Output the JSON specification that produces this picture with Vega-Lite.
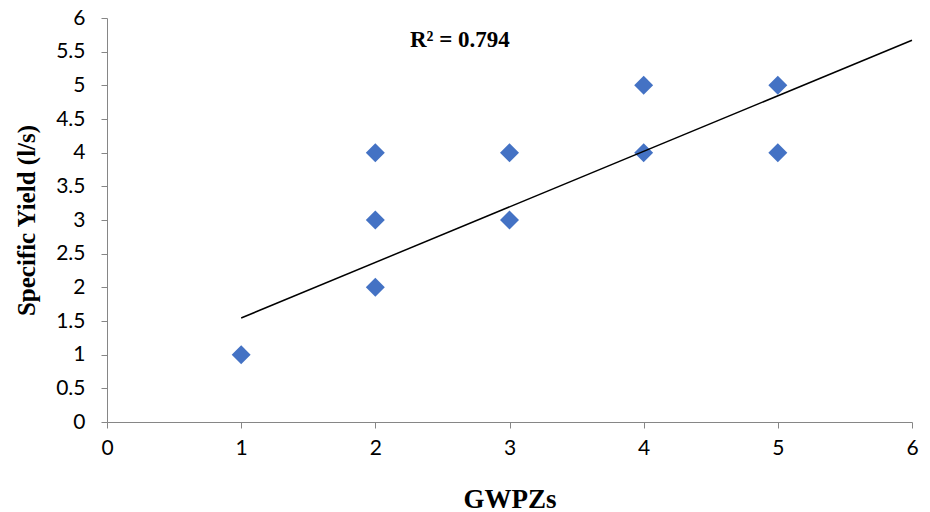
{
  "$schema": "https://vega.github.io/schema/vega-lite/v6.json",
  "autosize": "none",
  "width": 805,
  "height": 404,
  "padding": {"left": 107, "top": 18, "right": 18, "bottom": 90},
  "background": "white",
  "config": {"view": {"stroke": null}},
  "encoding": {
    "x": {
      "field": "gwpz", "type": "quantitative",
      "scale": {"domain": [0, 6], "nice": false, "zero": true},
      "axis": {
        "title": "GWPZs", "values": [0,1,2,3,4,5,6], "format": "~g", "grid": false, "labelOverlap": false, "labelFlush": false,
        "domainColor": "#868686", "tickColor": "#868686", "tickSize": 6,
        "labelFont": "Lato", "labelFontSize": 21, "labelColor": "#000000", "labelPadding": 9,
        "titleFont": "Liberation Serif", "titleFontSize": 27, "titleFontWeight": "bold", "titleColor": "#000000", "titlePadding": 28
      }
    },
    "y": {
      "field": "yield", "type": "quantitative",
      "scale": {"domain": [0, 6], "nice": false, "zero": true},
      "axis": {
        "title": "Specific Yield (l/s)", "values": [0,0.5,1,1.5,2,2.5,3,3.5,4,4.5,5,5.5,6], "format": "~g", "grid": false, "labelOverlap": false, "labelFlush": false, "tickCount": 13,
        "domainColor": "#868686", "tickColor": "#868686", "tickSize": 6,
        "labelFont": "Lato", "labelFontSize": 21, "labelColor": "#000000", "labelPadding": 16,
        "titleFont": "Liberation Serif", "titleFontSize": 25, "titleFontWeight": "bold", "titleColor": "#000000", "titlePadding": 16
      }
    }
  },
  "layer": [
    {
      "data": {"values": [
        {"gwpz": 1, "yield": 1},
        {"gwpz": 2, "yield": 2},
        {"gwpz": 2, "yield": 3},
        {"gwpz": 2, "yield": 4},
        {"gwpz": 3, "yield": 3},
        {"gwpz": 3, "yield": 4},
        {"gwpz": 4, "yield": 4},
        {"gwpz": 4, "yield": 5},
        {"gwpz": 5, "yield": 4},
        {"gwpz": 5, "yield": 5}
      ]},
      "mark": {"type": "point", "shape": "diamond", "filled": true, "size": 360, "color": "#4472C4", "opacity": 1}
    },
    {
      "data": {"values": [
        {"gwpz": 1, "yield": 1.545},
        {"gwpz": 6, "yield": 5.67}
      ]},
      "mark": {"type": "line", "color": "#000000", "strokeWidth": 1.5}
    },
    {
      "data": {"values": [{"gwpz": 2.63, "yield": 5.67, "label": "R² = 0.794"}]},
      "mark": {"type": "text", "font": "Liberation Serif", "fontSize": 23, "fontWeight": "bold", "color": "#000000", "align": "center", "baseline": "middle"},
      "encoding": {
        "text": {"field": "label"}
      }
    }
  ]
}
